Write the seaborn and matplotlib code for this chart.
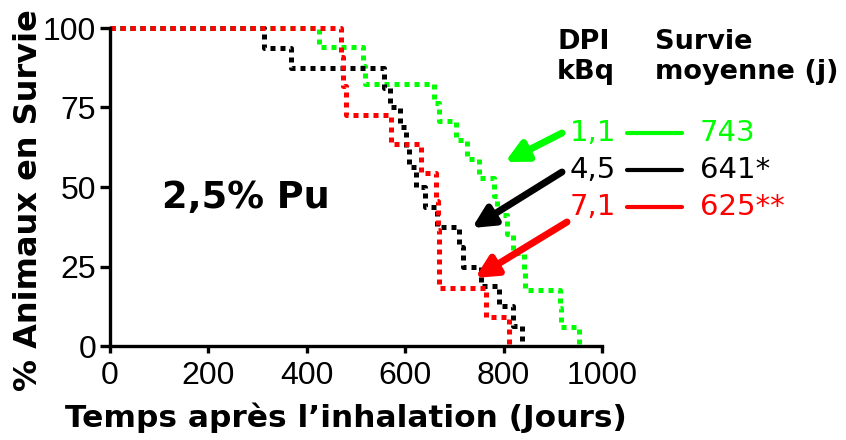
import pandas as pd
import seaborn as sns
import matplotlib
matplotlib.use("Agg")
import matplotlib.pyplot as plt

# survival curves (days, % alive)
vert_jours = [0, 424, 514, 518, 659, 668, 704, 725, 749, 780, 786, 806, 820, 841, 843, 914, 916, 953]
vert_survie = [100, 94.1, 88.2, 82.4, 76.5, 70.6, 64.7, 58.8, 52.9, 47.1, 41.2, 35.3, 29.4, 23.5, 17.6, 11.8, 5.9, 0]

noir_jours = [0, 312, 367, 557, 570, 590, 602, 608, 622, 640, 665, 710, 718, 755, 790, 820, 837]
noir_survie = [100, 93.75, 87.5, 81.25, 75, 68.75, 62.5, 56.25, 50, 43.75, 37.5, 31.25, 25, 18.75, 12.5, 6.25, 0]

rouge_jours = [0, 469, 474, 480, 571, 633, 663, 666, 668, 669, 765, 810]
rouge_survie = [100, 90.9, 81.8, 72.7, 63.6, 54.5, 45.5, 36.4, 27.3, 18.2, 9.1, 0]

dpi_labels = ["1,1", "4,5", "7,1"]
survie_moyenne = ["743", "641*", "625**"]
couleurs = ["#00ff00", "#000000", "#ff0000"]

x_ticks = [0, 200, 400, 600, 800, 1000]
y_ticks = [0, 25, 50, 75, 100]

W, H = 846, 440


def fx(px):
    return px / W


def fy(py):
    return 1 - py / H


df = pd.concat([
    pd.DataFrame({"jours": vert_jours, "survie": vert_survie, "dpi": dpi_labels[0]}),
    pd.DataFrame({"jours": noir_jours, "survie": noir_survie, "dpi": dpi_labels[1]}),
    pd.DataFrame({"jours": rouge_jours, "survie": rouge_survie, "dpi": dpi_labels[2]}),
], ignore_index=True)

sns.set_style("ticks")
plt.rcParams["font.family"] = ["DejaVu Sans"]
plt.rcParams["text.color"] = "black"
plt.rcParams["axes.labelcolor"] = "black"

fig = plt.figure(figsize=(W / 100, H / 100), dpi=100)
ax = fig.add_axes([fx(110), fy(346), 492 / W, 318 / H])

sns.lineplot(
    data=df, x="jours", y="survie", hue="dpi",
    hue_order=dpi_labels, palette=couleurs,
    estimator=None, sort=False, drawstyle="steps-post",
    linestyle=(0, (1, 1)), linewidth=3.6, legend=False, ax=ax,
)
for line in ax.lines:
    line.set_clip_on(False)

ax.set_xlim(0, 1000)
ax.set_ylim(0, 100)
ax.set_xticks(x_ticks)
ax.set_yticks(y_ticks)
ax.set_xlabel("")
ax.set_ylabel("")
for side in ["top", "right"]:
    ax.spines[side].set_visible(False)
for side in ["left", "bottom"]:
    ax.spines[side].set_linewidth(2.4)
    ax.spines[side].set_color("black")
ax.tick_params(axis="both", direction="out", width=2.4, color="black",
               labelsize=23, labelcolor="black")
ax.tick_params(axis="y", length=7, pad=3)
ax.tick_params(axis="x", length=5, pad=6)
for lab in ax.get_xticklabels() + ax.get_yticklabels():
    lab.set_family(["Liberation Sans Narrow", "Liberation Sans", "DejaVu Sans"])

fig.text(fx(29), fy(200), "% Animaux en Survie", rotation=90, ha="center",
         va="center", fontsize=23, fontweight="bold")
fig.text(fx(346), fy(418), "Temps après l\u2019inhalation (Jours)", ha="center",
         va="center", fontsize=22.5, fontweight="bold")
fig.text(fx(246), fy(197), "2,5% Pu", ha="center", va="center",
         fontsize=26.5, fontweight="bold")

fig.text(fx(557), fy(42), "DPI", ha="left", va="center", fontsize=19.5, fontweight="bold")
fig.text(fx(557), fy(72), "kBq", ha="left", va="center", fontsize=19.5, fontweight="bold")
fig.text(fx(655), fy(42), "Survie", ha="left", va="center", fontsize=19.5, fontweight="bold")
fig.text(fx(655), fy(72), "moyenne (j)", ha="left", va="center", fontsize=19.5, fontweight="bold")

rows_y = [133, 170, 207]
arrows = [((562, 133), (505, 162)), ((562, 172), (472, 228)), ((567, 222), (475, 278))]
for lab, moy, col, ry, (tail, head) in zip(dpi_labels, survie_moyenne, couleurs, rows_y, arrows):
    fig.text(fx(570), fy(ry), lab, ha="left", va="center", fontsize=21, color=col)
    fig.text(fx(700), fy(ry), moy, ha="left", va="center", fontsize=21, color=col)
    fig.add_artist(plt.Line2D([fx(627), fx(682)], [fy(ry), fy(ry)], color=col, lw=3))
    ax.annotate("", xy=(fx(head[0]), fy(head[1])), xycoords="figure fraction",
                xytext=(fx(tail[0]), fy(tail[1])), textcoords="figure fraction",
                arrowprops=dict(arrowstyle="-|>", color=col, lw=5,
                                mutation_scale=32, shrinkA=0, shrinkB=0),
                annotation_clip=False)

fig.savefig("out.png", dpi=100)
